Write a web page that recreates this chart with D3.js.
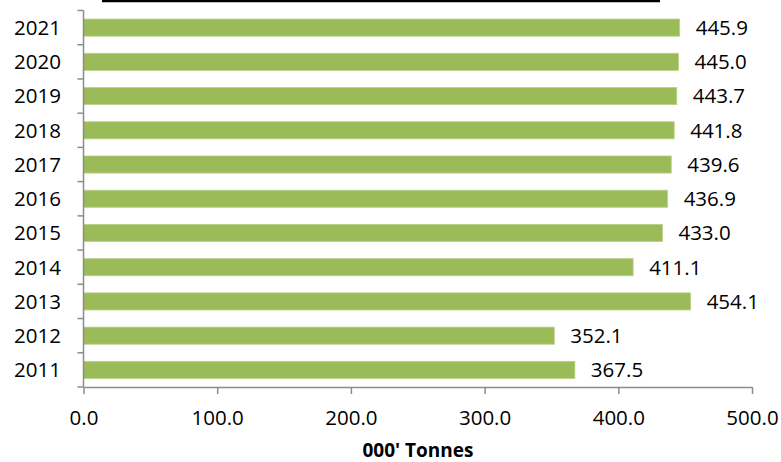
<!DOCTYPE html>
<html>
<head>
<meta charset="utf-8">
<script src="https://cdn.jsdelivr.net/npm/d3@7"></script>
<style>
  html, body { margin: 0; padding: 0; background: #fff; }
  svg text { font-family: "Open Sans", "Liberation Sans", sans-serif; fill: #000; }
</style>
</head>
<body>
<svg id="chart" width="781" height="462"></svg>
<script>
// Annual tonnage, thousands of tonnes
const years = ["2011", "2012", "2013", "2014", "2015", "2016", "2017", "2018", "2019", "2020", "2021"];
const tonnes = [367.5, 352.1, 454.1, 411.1, 433.0, 436.9, 439.6, 441.8, 443.7, 445.0, 445.9];
const xTicks = [0, 100, 200, 300, 400, 500];
const xTitle = "000' Tonnes";

const svg = d3.select("#chart");
const margin = { left: 83.5, right: 29, top: 10.5, bottom: 75 };
const W = 781, H = 462;
const fs = 20.5;

const x = d3.scaleLinear().domain([0, 500]).range([margin.left, W - margin.right]);
const y = d3.scaleBand().domain(years.slice().reverse())
  .range([margin.top, H - margin.bottom]).paddingInner(0.5).paddingOuter(0.25);

// Rule across the top of the frame
svg.append("line")
  .attr("x1", 102).attr("x2", 660).attr("y1", 1).attr("y2", 1)
  .attr("stroke", "#000").attr("stroke-width", 2.5);

// Bars
svg.append("g").selectAll("rect")
  .data(years.map((yr, i) => ({ yr, v: tonnes[i] })))
  .join("rect")
  .attr("x", x(0))
  .attr("y", d => y(d.yr))
  .attr("width", d => x(d.v) - x(0))
  .attr("height", y.bandwidth())
  .attr("fill", "#9BBB59")
  .attr("stroke", "#b9d18a")
  .attr("stroke-width", 0.8);

// Value labels
svg.append("g").selectAll("text")
  .data(years.map((yr, i) => ({ yr, v: tonnes[i] })))
  .join("text")
  .attr("x", d => x(d.v) + 16)
  .attr("y", d => y(d.yr) + y.bandwidth() / 2)
  .attr("dy", "0.36em")
  .attr("font-size", fs)
  .text(d => d.v.toFixed(1));

const axisColor = "#8c8c8c";

// X axis
const xAxis = svg.append("g")
  .attr("transform", `translate(0,${H - margin.bottom})`)
  .call(d3.axisBottom(x).tickValues(xTicks).tickFormat(d3.format(".1f")).tickSize(7).tickSizeOuter(0));
xAxis.select(".domain").attr("stroke", axisColor).attr("stroke-width", 1.5);
xAxis.selectAll(".tick line").attr("stroke", axisColor).attr("stroke-width", 1.5);
xAxis.selectAll(".tick text").attr("font-size", fs).attr("y", 0).attr("dy", "1.85em")
  .attr("font-family", "'Open Sans', sans-serif").attr("fill", "#000");

// Y axis: ticks sit between categories
const yAxisG = svg.append("g").attr("transform", `translate(${x(0)},0)`);
yAxisG.append("line")
  .attr("x1", 0).attr("x2", 0)
  .attr("y1", margin.top).attr("y2", H - margin.bottom)
  .attr("stroke", axisColor).attr("stroke-width", 1.5);
const step = y.step();
const boundaries = d3.range(years.length + 1).map(i => margin.top + i * step);
yAxisG.selectAll("line.tk").data(boundaries).join("line")
  .attr("class", "tk")
  .attr("x1", -6).attr("x2", 0)
  .attr("y1", d => d).attr("y2", d => d)
  .attr("stroke", axisColor).attr("stroke-width", 1.5);
yAxisG.selectAll("text").data(years).join("text")
  .attr("x", -22.5)
  .attr("y", d => y(d) + y.bandwidth() / 2)
  .attr("dy", "0.36em")
  .attr("text-anchor", "end")
  .attr("font-size", fs)
  .text(d => d);

// Axis title
svg.append("text")
  .attr("x", 418)
  .attr("y", 457)
  .attr("text-anchor", "middle")
  .attr("font-size", 19)
  .attr("font-weight", "bold")
  .text(xTitle);
</script>
</body>
</html>
